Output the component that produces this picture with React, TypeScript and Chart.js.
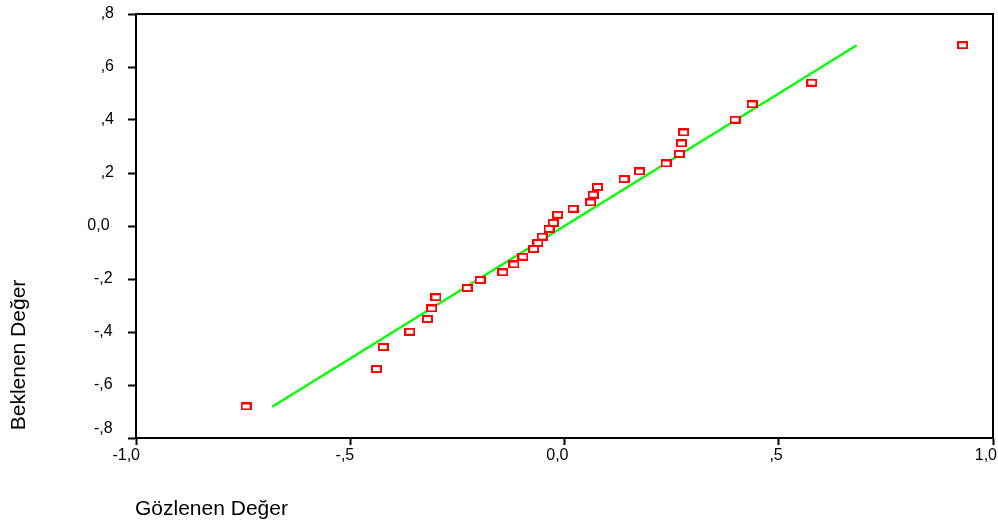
import React, { useEffect, useRef } from "react";
import { Chart, registerables } from "chart.js";

Chart.register(...registerables);

const observed = [
  -0.743, -0.439, -0.423, -0.361, -0.32, -0.31, -0.3, -0.227, -0.197, -0.144, -0.118, -0.097,
  -0.072, -0.062, -0.052, -0.036, -0.026, -0.016, 0.02, 0.061, 0.067, 0.077, 0.139, 0.175,
  0.237, 0.268, 0.273, 0.278, 0.398, 0.438, 0.577, 0.929,
];
const expected = [
  -0.681, -0.54, -0.457, -0.399, -0.351, -0.311, -0.269, -0.234, -0.204, -0.175, -0.145, -0.116,
  -0.087, -0.064, -0.04, -0.011, 0.012, 0.042, 0.065, 0.089, 0.118, 0.147, 0.177, 0.206,
  0.236, 0.272, 0.312, 0.353, 0.401, 0.459, 0.541, 0.682,
];
const refLine = [-0.682, 0.682];
const xTicks = [-1, -0.5, 0, 0.5, 1];
const yTicks = [-0.8, -0.6, -0.4, -0.2, 0, 0.2, 0.4, 0.6, 0.8];
const xTitle = "Gözlenen Değer";
const yTitle = "Beklenen Değer";

const FONT = "'Liberation Sans', Arial, sans-serif";

function fmt(v: number): string {
  const r = Math.round(v * 10) / 10;
  if (Math.abs(r) < 1e-9) return "0,0";
  let s = Math.abs(r).toFixed(1).replace(".", ",");
  if (Math.abs(r) < 1) s = s.replace(/^0/, "");
  return (r < 0 ? "-" : "") + s;
}

function yLabel(v: number): string {
  const s = fmt(v);
  if (Math.abs(v) < 1e-9) return s + " ";
  if (v < 0) return s + "\u200A";
  return s;
}

function makeMarker(): HTMLCanvasElement {
  const c = document.createElement("canvas");
  c.width = 11;
  c.height = 8;
  const g = c.getContext("2d")!;
  g.fillStyle = "#ff0000";
  g.fillRect(0, 0, 11, 8);
  g.fillStyle = "#ffffff";
  g.fillRect(2, 2, 7, 4);
  return c;
}

export default function App() {
  const ref = useRef<HTMLCanvasElement>(null);

  useEffect(() => {
    const marker = makeMarker();
    const framePlugin = {
      id: "frameAndTitles",
      afterDraw(chart: any) {
        const { ctx, chartArea } = chart;
        ctx.save();
        ctx.strokeStyle = "#000";
        ctx.lineWidth = 2;
        ctx.strokeRect(chartArea.left, chartArea.top, chartArea.right - chartArea.left, chartArea.bottom - chartArea.top);
        ctx.fillStyle = "#000";
        ctx.font = `21px ${FONT}`;
        ctx.textAlign = "left";
        ctx.textBaseline = "alphabetic";
        ctx.fillText(xTitle, 135, 515);
        ctx.translate(25, 355);
        ctx.rotate(-Math.PI / 2);
        ctx.textAlign = "center";
        ctx.fillText(yTitle, 0, 0);
        ctx.restore();
      },
    };

    const chart = new Chart(ref.current!, {
      type: "scatter",
      data: {
        datasets: [
          {
            label: "points",
            data: observed.map((x, i) => ({ x, y: expected[i] })),
            pointStyle: marker as any,
            pointRadius: 5,
            order: 1,
          },
          {
            label: "line",
            type: "line",
            data: refLine.map((v) => ({ x: v, y: v })),
            borderColor: "#00ff00",
            borderWidth: 2.3,
            pointRadius: 0,
            showLine: true,
            fill: false,
            order: 2,
          } as any,
        ],
      },
      plugins: [framePlugin],
      options: {
        animation: false,
        responsive: false,
        devicePixelRatio: 1,
        layout: { padding: { left: 0, top: 14, right: 5, bottom: 0 }, autoPadding: false } as any,
        plugins: { legend: { display: false }, tooltip: { enabled: false } },
        scales: {
          x: {
            type: "linear",
            min: -1,
            max: 1,
            afterBuildTicks: (s: any) => {
              s.ticks = xTicks.map((v) => ({ value: v }));
            },
            afterFit: (s: any) => {
              s.height = 85;
              s.paddingLeft = 0;
              s.paddingRight = 0;
            },
            grid: { drawOnChartArea: false, drawTicks: true, tickLength: 7, tickColor: "#000", tickWidth: 2 },
            border: { display: true, color: "#000", width: 2 },
            ticks: {
              autoSkip: false,
              maxRotation: 0,
              align: "end",
              labelOffset: 4,
              padding: 1,
              color: "#000",
              font: { family: FONT, size: 16 },
              callback: (v: any) => fmt(Number(v)),
            },
          },
          y: {
            type: "linear",
            min: -0.8,
            max: 0.8,
            afterBuildTicks: (s: any) => {
              s.ticks = yTicks.map((v) => ({ value: v }));
            },
            afterFit: (s: any) => {
              s.width = 136;
              s.paddingTop = 0;
              s.paddingBottom = 0;
            },
            grid: { drawOnChartArea: false, drawTicks: true, tickLength: 8, tickColor: "#000", tickWidth: 2 },
            border: { display: true, color: "#000", width: 2 },
            ticks: {
              autoSkip: false,
              padding: 14,
              color: "#000",
              font: { family: FONT, size: 16 },
              callback: (v: any) => {
                const n = Number(v);
                return Math.abs(n + 0.8) < 1e-9 ? [yLabel(n), ""] : yLabel(n);
              },
            },
          },
        },
      } as any,
    });
    return () => chart.destroy();
  }, []);

  return (
    <div style={{ position: "fixed", left: 0, top: 0, width: 998, height: 523, background: "#fff" }}>
      <canvas ref={ref} width={998} height={523} style={{ width: 998, height: 523, display: "block" }} />
    </div>
  );
}
